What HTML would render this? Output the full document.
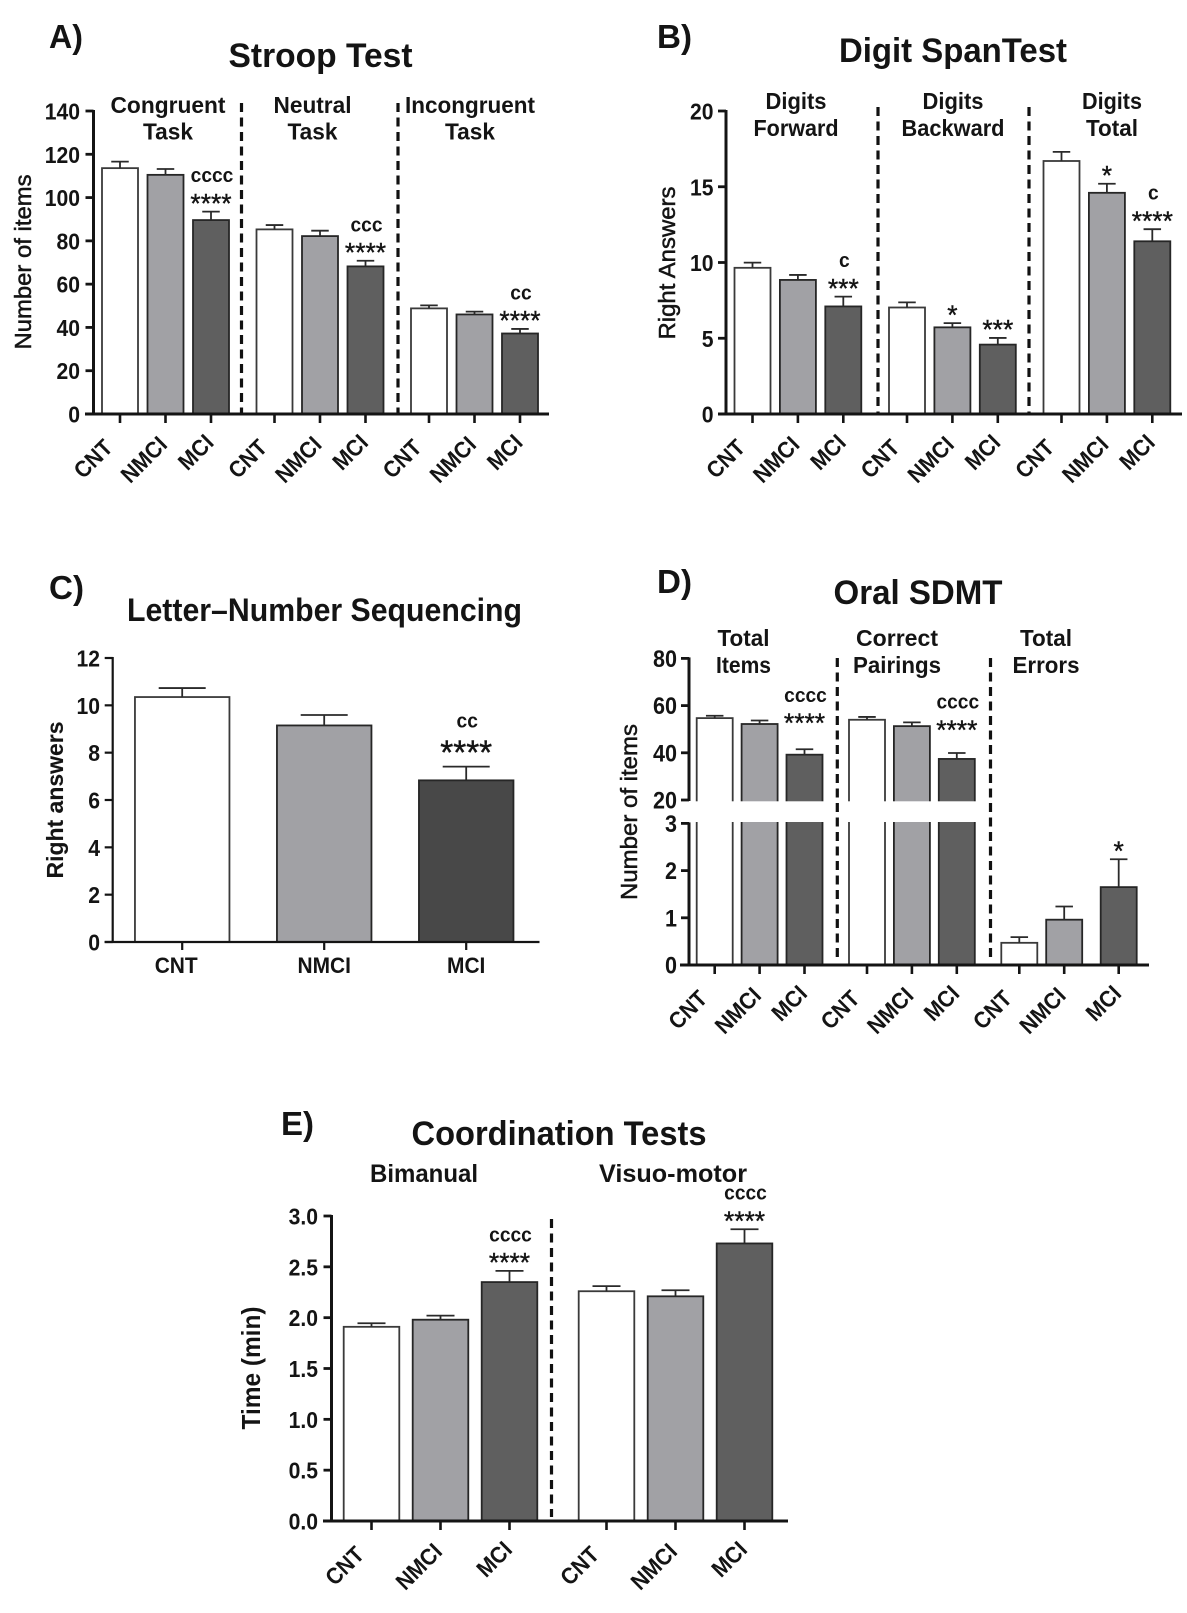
<!DOCTYPE html>
<html lang="en">
<head>
<meta charset="utf-8">
<title>Cognitive test bar charts</title>
<style>
html,body{margin:0;padding:0;background:#fff;}
svg{display:block;font-family:"Liberation Sans",Arial,sans-serif;}
</style>
</head>
<body>
<svg id="fig" xmlns="http://www.w3.org/2000/svg" width="1187" height="1613" viewBox="0 0 1187 1613"></svg>
<script>
const categories = ['CNT','NMCI','MCI'];

const stroopGroups = [['Congruent','Task'],['Neutral','Task'],['Incongruent','Task']];
const stroopMeans = [113.6,110.5,89.6, 85.3,82.2,68.2, 48.8,46,37.2];
const stroopTops  = [116.6,113.2,93.5, 87.3,84.7,70.8, 50.2,47.3,39.3];
const stroopStars = ['','','****', '','','****', '','','****'];
const stroopC     = ['','','cccc', '','','ccc', '','','cc'];
const stroopTicks = [0,20,40,60,80,100,120,140];

const digitGroups = [['Digits','Forward'],['Digits','Backward'],['Digits','Total']];
const digitMeans = [9.65,8.85,7.1, 7.03,5.72,4.58, 16.7,14.6,11.4];
const digitTops  = [9.99,9.18,7.75, 7.37,6.0,5.02, 17.3,15.2,12.2];
const digitStars = ['','','***', '','*','***', '','*','****'];
const digitC     = ['','','c', '','','', '','','c'];
const digitTicks = [0,5,10,15,20];

const lnsMeans = [10.35,9.15,6.83];
const lnsTops  = [10.73,9.59,7.41];
const lnsStars = ['','','****'];
const lnsC     = ['','','cc'];
const lnsTicks = [0,2,4,6,8,10,12];

const sdmtGroups = [['Total','Items'],['Correct','Pairings'],['Total','Errors']];
const sdmtMeans = [54.7,52.2,39.2, 54,51.3,37.4, 0.47,0.96,1.65];
const sdmtTops  = [55.7,53.7,41.5, 55.2,52.9,39.9, 0.59,1.24,2.24];
const sdmtStars = ['','','****', '','','****', '','','*'];
const sdmtC     = ['','','cccc', '','','cccc', '','',''];
const sdmtTicksLower = [0,1,2,3];
const sdmtTicksUpper = [20,40,60,80];

const coordGroups = [['Bimanual'],['Visuo-motor']];
const coordMeans = [1.91,1.98,2.35, 2.26,2.21,2.73];
const coordTops  = [1.945,2.02,2.46, 2.31,2.27,2.87];
const coordStars = ['','','****', '','','****'];
const coordC     = ['','','cccc', '','','cccc'];
const coordTicks = ['0.0','0.5','1.0','1.5','2.0','2.5','3.0'];

const NS = 'http://www.w3.org/2000/svg';
const fig = document.getElementById('fig');
const INK = '#141414';
const fills = ['#ffffff','#a1a1a5','#5f5f5f'];

function mk(parent, tag, name, attrs) {
  const el = document.createElementNS(NS, tag);
  
  
  for (const k in attrs) el.setAttribute(k, attrs[k]);
  parent.appendChild(el);
  return el;
}
function line(p, name, x1, y1, x2, y2, w, color, dash) {
  const a = {x1, y1, x2, y2, stroke: color || INK, 'stroke-width': w};
  if (dash) a['stroke-dasharray'] = dash;
  return mk(p, 'line', name, a);
}
function txt(p, name, str, x, y, o) {
  o = o || {};
  const a = {x, y, 'font-size': o.fs || 21, 'font-weight': o.weight || 'bold', 'text-anchor': o.anchor || 'middle', fill: INK};
  if (o.rot !== undefined) a.transform = 'rotate(' + o.rot + ' ' + x + ' ' + y + ')';
  if (o.thick) { a.stroke = INK; a['stroke-width'] = o.thick; }
  const el = mk(p, 'text', name, a);
  el.textContent = str;
  if (o.len) {
    el.setAttribute('textLength', o.len);
    el.setAttribute('lengthAdjust', 'spacingAndGlyphs');
  } else if (o.cond) {
    el.setAttribute('textLength', (el.getComputedTextLength() * o.cond).toFixed(1));
    el.setAttribute('lengthAdjust', 'spacingAndGlyphs');
  }
  return el;
}

function drawBars(g, c, means, tops) {
  means.forEach(function (v, idx) {
    const gi = Math.floor(idx / 3), i = idx % 3;
    const x = c.barX(gi, i);
    const y = c.y(v), yt = c.y(tops[idx]);
    const fill = (c.fills || fills)[i];
    const slug = categories[i].toLowerCase() + '-' + (gi + 1);
    mk(g, 'rect', 'bar-' + slug, {x: x - c.barW / 2, y, width: c.barW, height: c.y0 - y, fill, stroke: i === 0 ? '#3a3a3a' : '#262626', 'stroke-width': 1.8});
    line(g, 'error-stem-' + slug, x, y, x, yt, 1.8, '#2a2a2a');
    line(g, 'error-cap-' + slug, x - c.capW / 2, yt, x + c.capW / 2, yt, 1.8, '#2a2a2a');
  });
}
function drawNotes(g, c, tops, stars, cs) {
  tops.forEach(function (t, idx) {
    const gi = Math.floor(idx / 3), i = idx % 3;
    const x = c.barX(gi, i);
    const extra = c.noteLift ? c.noteLift(idx) : 0;
    const fs = c.starFs || 27;
    const bottom = c.y(t) - (c.starGap || 10) - extra;
    if (stars[idx]) txt(g, 'significance-stars', stars[idx], x, bottom + fs * 0.4, {fs, weight: 'normal', thick: 0.4, cond: 0.98});
    if (cs[idx]) txt(g, 'significance-c', cs[idx], x + 1, bottom - (c.cGap || 19.5), {fs: 20, cond: 0.96});
  });
}
function drawXTicks(g, c, count) {
  const off = [[-6, 35], [3, 32], [4, 30]];
  for (let idx = 0; idx < count; idx++) {
    const gi = Math.floor(idx / 3), i = idx % 3;
    const x = c.barX(gi, i);
    line(g, 'x-tick', x, c.y0, x, c.y0 + 9, 2.6);
    txt(g, 'x-label-' + categories[i].toLowerCase(), categories[i], x + off[i][0], c.y0 + off[i][1], {fs: 23, anchor: 'end', rot: -45, cond: 0.92});
  }
}
function drawYTicks(g, c, ticks, scale, w) {
  ticks.forEach(function (t) {
    const v = parseFloat(t);
    line(g, 'y-tick', c.axisX - 8, scale(v), c.axisX, scale(v), w || 2.8);
    txt(g, 'y-tick-label', String(t), c.labelX, scale(v) + 8.5, {fs: c.tickFs || 23.5, anchor: 'end', cond: 0.9});
  });
}
function dashed(g, x, y1, y2) {
  line(g, 'group-divider', x, y1, x, y2, 3.2, '#111', '9 5.5');
}
function groupText(g, lines, cx, b1, b2, lens) {
  lines.forEach(function (s, i) {
    txt(g, 'group-label', s, cx, i === 0 ? b1 : b2, {fs: 23, len: lens[i]});
  });
}

/* Panel A */
(function () {
  const g = mk(fig, 'g', 'panel-a-stroop-test', {});
  const y0 = 414, pxPerUnit = 303 / 140;
  const c = {y0, axisX: 93.5, labelX: 80, barW: 36, capW: 17.5,
    y: v => y0 - v * pxPerUnit,
    barX: (gi, i) => 120 + gi * 154.5 + i * 45.5};
  txt(g, 'panel-letter-a', 'A)', 49, 48, {fs: 33, anchor: 'start', len: 34});
  txt(g, 'chart-title', 'Stroop Test', 320.5, 67, {fs: 34, len: 184});
  dashed(g, 241.5, 103, y0);
  dashed(g, 398, 103, y0);
  drawBars(g, c, stroopMeans, stroopTops);
  line(g, 'y-axis', c.axisX, c.y(140) - 1, c.axisX, y0 + 1, 3);
  line(g, 'x-axis', 85, y0, 549, y0, 3);
  drawYTicks(g, c, stroopTicks, c.y);
  drawXTicks(g, c, stroopMeans.length);
  drawNotes(g, c, stroopTops, stroopStars, stroopC);
  txt(g, 'y-axis-title', 'Number of items', 31, 262, {fs: 23, rot: -90, len: 175, weight: 'normal', thick: 0.5});
  const lens = [[115, 50], [78, 50], [130, 50]], cx = [168, 312.5, 470];
  stroopGroups.forEach((l, i) => groupText(g, l, cx[i], 113, 139.5, lens[i]));
})();

/* Panel B */
(function () {
  const g = mk(fig, 'g', 'panel-b-digit-span-test', {});
  const y0 = 414, pxPerUnit = 303 / 20;
  const c = {y0, axisX: 726, labelX: 713.5, barW: 36, capW: 17.5,
    y: v => y0 - v * pxPerUnit,
    barX: (gi, i) => 752.5 + gi * 154.5 + i * 45.4};
  txt(g, 'panel-letter-b', 'B)', 657, 48, {fs: 33, anchor: 'start', len: 35});
  txt(g, 'chart-title', 'Digit SpanTest', 953, 62, {fs: 34, len: 228});
  dashed(g, 878, 107, y0);
  dashed(g, 1029, 107, y0);
  drawBars(g, c, digitMeans, digitTops);
  line(g, 'y-axis', c.axisX, c.y(20) - 1, c.axisX, y0 + 1, 3);
  line(g, 'x-axis', 718, y0, 1182, y0, 3);
  drawYTicks(g, c, digitTicks, c.y);
  drawXTicks(g, c, digitMeans.length);
  drawNotes(g, c, digitTops, digitStars, digitC);
  txt(g, 'y-axis-title', 'Right Answers', 675, 263, {fs: 23, rot: -90, len: 153, weight: 'normal', thick: 0.5});
  const lens = [[61, 85], [61, 103], [60, 52]], cx = [796, 953, 1112];
  digitGroups.forEach((l, i) => groupText(g, l, cx[i], 109, 136, lens[i]));
})();

/* Panel C */
(function () {
  const g = mk(fig, 'g', 'panel-c-letter-number-sequencing', {});
  const y0 = 942, pxPerUnit = 284 / 12;
  const c = {y0, axisX: 112.7, labelX: 100, barW: 94.5, capW: 47, starFs: 34, starGap: 16, cGap: 23,
    fills: ['#ffffff', '#a1a1a5', '#484848'],
    y: v => y0 - v * pxPerUnit,
    barX: (gi, i) => 182.2 + i * 142};
  txt(g, 'panel-letter-c', 'C)', 49, 599, {fs: 33, anchor: 'start', len: 35});
  txt(g, 'chart-title', 'Letter\u2013Number Sequencing', 324.5, 621, {fs: 32, len: 395});
  drawBars(g, c, lnsMeans, lnsTops);
  line(g, 'y-axis', c.axisX, c.y(12) - 1, c.axisX, y0 + 1, 2.2);
  line(g, 'x-axis', 104.6, y0, 539.5, y0, 2.2);
  drawYTicks(g, c, lnsTicks, c.y, 2.2);
  lnsMeans.forEach(function (v, i) {
    const x = c.barX(0, i);
    line(g, 'x-tick', x, y0, x, y0 + 8, 2.2);
    txt(g, 'x-label-' + categories[i].toLowerCase(), categories[i], i === 0 ? x - 6 : x, 973, {fs: 22, cond: 0.95});
  });
  drawNotes(g, c, lnsTops, lnsStars, lnsC);
  txt(g, 'y-axis-title', 'Right answers', 63, 800, {fs: 23, rot: -90, len: 157, thick: 0.1});
})();

/* Panel D */
(function () {
  const g = mk(fig, 'g', 'panel-d-oral-sdmt', {});
  const y0 = 965, lowerPx = 47.2, upperPx = 2.36, breakTop = 800;
  const yLower = v => y0 - v * lowerPx;
  const yUpper = v => breakTop - (v - 20) * upperPx;
  const c = {y0, axisX: 689, labelX: 677, barW: 36, capW: 17.5, tickFs: 24,
    y: v => (v <= 3 ? yLower(v) : yUpper(v)),
    noteLift: idx => (idx === 2 ? 18 : idx === 5 ? 15 : 0),
    barX: (gi, i) => 714.7 + gi * 152.3 + i * 44.9 + (gi === 2 && i === 2 ? 9.6 : 0)};
  txt(g, 'panel-letter-d', 'D)', 657, 593, {fs: 33, anchor: 'start', len: 35});
  txt(g, 'chart-title', 'Oral SDMT', 918, 604, {fs: 34, len: 169});
  drawBars(g, c, sdmtMeans, sdmtTops);
  mk(g, 'rect', 'axis-break-gap', {x: 670, y: 801.3, width: 316, height: 20.7, fill: '#ffffff'});
  dashed(g, 837.3, 658, 957);
  dashed(g, 990.5, 658, 957);
  line(g, 'y-axis-upper', c.axisX, yUpper(80) - 1, c.axisX, breakTop + 1, 3);
  line(g, 'y-axis-lower', c.axisX, yLower(3) - 1, c.axisX, y0 + 1, 3);
  line(g, 'x-axis', 680, y0, 1149, y0, 3);
  drawYTicks(g, c, sdmtTicksLower, yLower);
  drawYTicks(g, c, sdmtTicksUpper, yUpper);
  drawXTicks(g, c, sdmtMeans.length);
  drawNotes(g, c, sdmtTops, sdmtStars, sdmtC);
  txt(g, 'y-axis-title', 'Number of items', 637, 812, {fs: 23, rot: -90, len: 176, weight: 'normal', thick: 0.5});
  const lens = [[52, 55], [82, 88], [52, 67]], cx = [743.5, 897, 1046];
  sdmtGroups.forEach((l, i) => groupText(g, l, cx[i], 646, 673, lens[i]));
})();

/* Panel E */
(function () {
  const g = mk(fig, 'g', 'panel-e-coordination-tests', {});
  const y0 = 1521, pxPerUnit = 305 / 3;
  const c = {y0, axisX: 331.5, labelX: 318, barW: 55.6, capW: 28,
    y: v => y0 - v * pxPerUnit,
    barX: (gi, i) => 371.5 + gi * 235 + i * 69};
  txt(g, 'panel-letter-e', 'E)', 281, 1135, {fs: 33, anchor: 'start', len: 33});
  txt(g, 'chart-title', 'Coordination Tests', 559, 1145, {fs: 34, len: 295});
  dashed(g, 551.5, 1219, 1517);
  drawBars(g, c, coordMeans, coordTops);
  line(g, 'y-axis', c.axisX, c.y(3) - 1, c.axisX, y0 + 1, 3);
  line(g, 'x-axis', 323, y0, 788, y0, 3);
  drawYTicks(g, c, coordTicks, c.y);
  drawXTicks(g, c, coordMeans.length);
  drawNotes(g, c, coordTops, coordStars, coordC);
  txt(g, 'y-axis-title', 'Time (min)', 260, 1368, {fs: 26, rot: -90, len: 123});
  txt(g, 'group-label', coordGroups[0][0], 424, 1182, {fs: 25, len: 108});
  txt(g, 'group-label', coordGroups[1][0], 673, 1182, {fs: 25, len: 148});
})();
</script>
</body>
</html>
